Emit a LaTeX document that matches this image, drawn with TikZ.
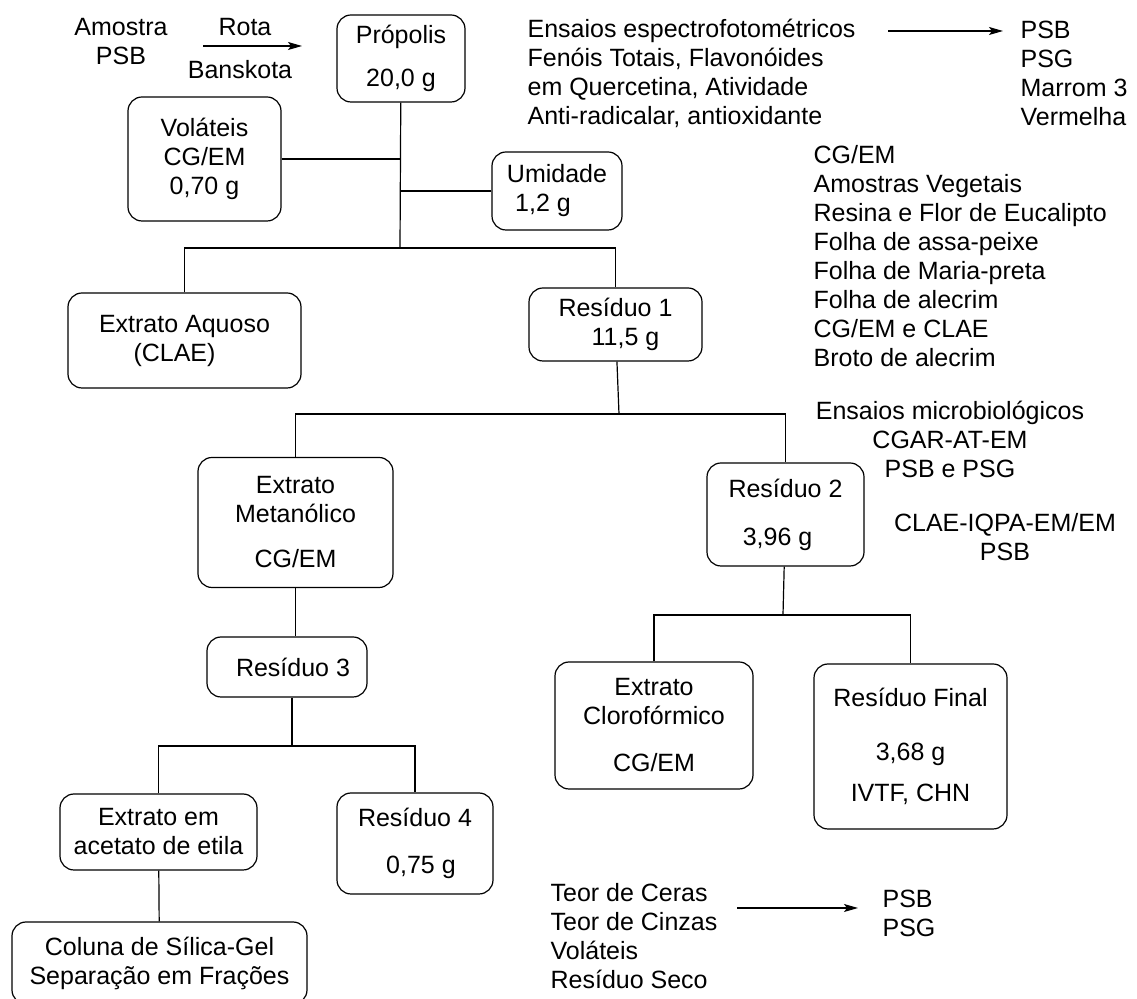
\documentclass[tikz,border=0pt]{standalone}
\usepackage{fontspec}
\setmainfont{Liberation Sans}
\usetikzlibrary{arrows.meta}

\begin{document}
\begin{tikzpicture}[x=0.5pt,y=-0.5pt,line width=0.6pt,
	every node/.style={font=\fontsize{12.5}{14.5}\selectfont},
	box/.style={draw,rounded corners=7pt,align=center,inner sep=0pt},
	txt/.style={align=left,inner sep=0pt,anchor=west},
	lbl/.style={align=center,inner sep=0pt},
	arr/.style={-{Stealth[length=7pt,width=4pt,inset=1.5pt]}}]
\useasboundingbox (0,0) rectangle (1137,999);

%boxes
\node[box,minimum width=64pt,minimum height=43.5pt] (prop) at (401,58.5) {Própolis\\[7pt]20,0 g};
\node[box,minimum width=76.5pt,minimum height=62pt] (vol) at (204.5,159) {Voláteis\\CG/EM\\0,70 g};
\node[box,minimum width=65pt,minimum height=39pt] (umid) at (557,191) {Umidade\\1,2 g\hspace*{14pt}};
\node[box,minimum width=116.5pt,minimum height=47.5pt] (aquo) at (184.5,340.5) {Extrato Aquoso\\(CLAE)\hspace*{10pt}};
\node[box,minimum width=86.5pt,minimum height=36.5pt] (res1) at (615.5,324.5) {Resíduo 1\\\hspace*{10pt}11,5 g};
\node[box,minimum width=97.5pt,minimum height=65pt] (meta) at (295.5,522.5) {Extrato\\Metanólico\\[8pt]CG/EM};
\node[box,minimum width=78.5pt,minimum height=51.5pt] (res2) at (785.5,514.5) {Resíduo 2\\[9.5pt]3,96 g\hspace*{8pt}};
\node[box,minimum width=80pt,minimum height=30pt] (res3) at (287,667) {\hspace*{6pt}Resíduo 3};
\node[box,minimum width=98.5pt,minimum height=38pt] (acet) at (158.5,832) {Extrato em\\acetato de etila};
\node[box,minimum width=78pt,minimum height=50.5pt] (res4) at (415,843.5) {Resíduo 4\\[9pt]\hspace*{6pt}0,75 g};
\node[box,minimum width=147.5pt,minimum height=41pt] (col) at (159.5,963) {Coluna de Sílica-Gel\\Separação em Frações};
\node[box,minimum width=99pt,minimum height=63.5pt] (clor) at (654,725.5) {Extrato\\Clorofórmico\\[9pt]CG/EM};
\node[box,minimum width=96.5pt,minimum height=82.5pt] (fin) at (910.5,746.5) {Resíduo Final\\[12.5pt]3,68 g\\[6pt]IVTF, CHN};

%free texts
\node[lbl] (amostra) at (121,41.5) {Amostra\\PSB};
\node[lbl] (rota) at (245,27) {Rota};
\node[lbl] (bansk) at (240,70) {Banskota};
\node[txt] (espec) at (527,73.5) {Ensaios espectrofotométricos\\Fenóis Totais, Flavonóides\\em Quercetina, Atividade\\Anti-radicalar, antioxidante};
\node[txt] (tipos) at (1020,73.5) {PSB\\PSG\\Marrom 3\\Vermelha};
\node[txt] (veget) at (813,256) {CG/EM\\Amostras Vegetais\\Resina e Flor de Eucalipto\\Folha de assa-peixe\\Folha de Maria-preta\\Folha de alecrim\\CG/EM e CLAE\\Broto de alecrim};
\node[lbl] (micro) at (950,439) {Ensaios microbiológicos\\CGAR-AT-EM\\PSB e PSG};
\node[lbl] (clae) at (1005,537.5) {CLAE-IQPA-EM/EM\\PSB};
\node[txt] (teor) at (550,936.5) {Teor de Ceras\\Teor de Cinzas\\Voláteis\\Resíduo Seco};
\node[txt] (psbg) at (882,913) {PSB\\PSG};

%junctions
\coordinate (j1) at (400,248);
\coordinate (j2) at (619,414);
\coordinate (j3) at (783,615);
\coordinate (j4) at (292,746);

%tree
\draw (prop) -- (j1);
\draw (vol) -- (vol -| j1);
\draw (umid) -- (umid -| j1);
\draw (aquo) |- (j1) -| (res1);
\draw (res1) -- (j2);
\draw (meta) |- (j2) -| (res2);
\draw (res2) -- (j3);
\draw (clor) |- (j3) -| (fin);
\draw (meta.south) -- (meta.south |- res3.north);
\draw (res3.south -| j4) -- (j4);
\draw (acet) |- (j4) -| (res4);
\draw (acet) -- (col);

%arrows
\coordinate (a1) at (203,46);
\coordinate (a2) at (302,46);
\coordinate (b1) at (888,31);
\coordinate (b2) at (1003,31);
\coordinate (c1) at (737,908);
\coordinate (c2) at (858,908);
\foreach \s/\t in {a1/a2,b1/b2,c1/c2}
	\draw[arr] (\s) -- (\t);
\end{tikzpicture}
\end{document}
